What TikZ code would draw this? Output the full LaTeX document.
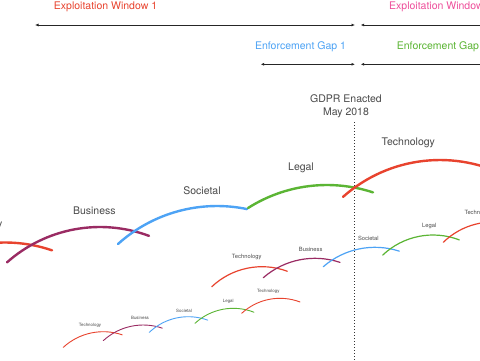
\documentclass[tikz,border=0pt]{standalone}
\usepackage{fontspec}
\setmainfont{TeX Gyre Heros}
\usetikzlibrary{arrows.meta}
\definecolor{cred}{HTML}{E8432E}
\definecolor{cpink}{HTML}{EE4F9B}
\definecolor{cblue}{HTML}{4DA3F5}
\definecolor{cgreen}{HTML}{5BB534}
\definecolor{cpurple}{HTML}{9A2B63}
\definecolor{clabel}{HTML}{4A4A4A}
\newcommand\myarc[6]{%
  \pgfmathsetmacro\aone{90+asin(#5/#4)}%
  \pgfmathsetmacro\atwo{90-asin(#6/#4)}%
  \draw[#1] ([shift={(\aone:#4pt)}] #2,#3+#4) arc[start angle=\aone,end angle=\atwo,radius=#4pt];%
}
\tikzset{
  bigfont/.style={font=\fontsize{10.5}{12.7}\selectfont, inner sep=0pt},
  biglbl/.style={bigfont, text=clabel},
  midlbl/.style={font=\fontsize{5.8}{7}\selectfont, inner sep=0pt, text=clabel},
  smalllbl/.style={font=\fontsize{4.4}{5.3}\selectfont, inner sep=0pt, text=clabel},
  bigarc/.style={line width=2.4pt, line cap=round},
  midarc/.style={line width=1.2pt, line cap=round},
  smallarc/.style={line width=0.9pt, line cap=round},
  span/.style={line width=0.8pt, draw=black!85, {Latex[length=3.5pt,width=3pt]}-{Latex[length=3.5pt,width=3pt]}},
  spanl/.style={line width=0.8pt, draw=black!85, {Latex[length=3.5pt,width=3pt]}-},
  gdprline/.style={line width=1.1pt, draw=black!80, dash pattern=on 1pt off 2pt}
}
\begin{document}
\begin{tikzpicture}[x=1pt,y=-1pt]
\useasboundingbox (0,0) rectangle (480,360);
\fill[white] (0,0) rectangle (480,360);
\clip (0,0) rectangle (480,360);

% top labels and spans
\node[bigfont, text=cred] (ew1) at (105.5,7) {Exploitation Window 1};
\node[bigfont, text=cpink, anchor=west] (ew2) at (389,7) {Exploitation Window 2};
\node[bigfont, text=cblue] (eg1) at (300.5,46.7) {Enforcement Gap 1};
\node[bigfont, text=cgreen, anchor=west] (eg2) at (396.7,46.7) {Enforcement Gap 2};

\coordinate (w1l) at (35,25);
\coordinate (w1r) at (355,25);
\coordinate (w2l) at (360.7,25);
\coordinate (w2r) at (495,25);
\coordinate (g1l) at (260.7,64.3);
\coordinate (g1r) at (355,64.3);
\coordinate (g2l) at (360.7,64.3);
\coordinate (g2r) at (495,64.3);
\draw[span] (w1l) -- (w1r);
\draw[spanl] (w2l) -- (w2r);
\draw[span] (g1l) -- (g1r);
\draw[spanl] (g2l) -- (g2r);

% GDPR
\node[biglbl, align=center] (gdpr) at (346,106.3) {GDPR Enacted\\May 2018};
\coordinate (dtop) at (354.5,122);
\coordinate (dbot) at (354.5,362);
\draw[gdprline] (dtop) -- (dbot);

% large arcs
\myarc{bigarc, cred}{5}{242.5}{145}{95}{47}
\myarc{bigarc, cpurple}{100}{227}{140}{93}{49}
\myarc{bigarc, cblue}{217}{206}{148}{99}{30}
\myarc{bigarc, cgreen}{327}{185}{147}{79}{46}
\myarc{bigarc, cred}{440}{160}{146}{97}{70}

\node[biglbl, anchor=east] (lt0) at (2.5,225) {Technology};
\node[biglbl] (lb) at (94.3,210.7) {Business};
\node[biglbl] (ls) at (202,190.7) {Societal};
\node[biglbl] (ll) at (301,168.3) {Legal};
\node[biglbl] (lt) at (408.3,142.7) {Technology};

% medium arcs
\myarc{midarc, cred}{262}{266.7}{73}{50.3}{25.3}
\myarc{midarc, cpurple}{315}{258.3}{78.6}{51.7}{25}
\myarc{midarc, cblue}{375}{247.3}{78.6}{51.7}{24.3}
\myarc{midarc, cgreen}{433}{235}{73}{50.3}{26.3}
\myarc{midarc, cred}{493}{222}{71}{49.7}{20}

\node[midlbl] (mt1) at (246.7,257.3) {Technology};
\node[midlbl] (mb) at (310.7,249) {Business};
\node[midlbl] (ms) at (368.3,238.3) {Societal};
\node[midlbl] (ml) at (429.3,226) {Legal};
\node[midlbl, anchor=west] (mt2) at (464.3,213.3) {Technology};

% small arcs
\myarc{smallarc, cred}{103.3}{331.7}{59}{40}{19}
\myarc{smallarc, cpurple}{143.3}{325}{59}{40}{19}
\myarc{smallarc, cblue}{188.3}{316.7}{56.5}{39}{19.4}
\myarc{smallarc, cgreen}{233.3}{308.3}{56.4}{38.3}{20.7}
\myarc{smallarc, cred}{280}{298.3}{56.4}{38.3}{20}

\node[smalllbl] (st1) at (90,325) {Technology};
\node[smalllbl] (sb) at (140,318.3) {Business};
\node[smalllbl] (ss) at (184,310.7) {Societal};
\node[smalllbl] (sl) at (228.3,301) {Legal};
\node[smalllbl] (st2) at (268.3,291) {Technology};
\end{tikzpicture}
\end{document}
